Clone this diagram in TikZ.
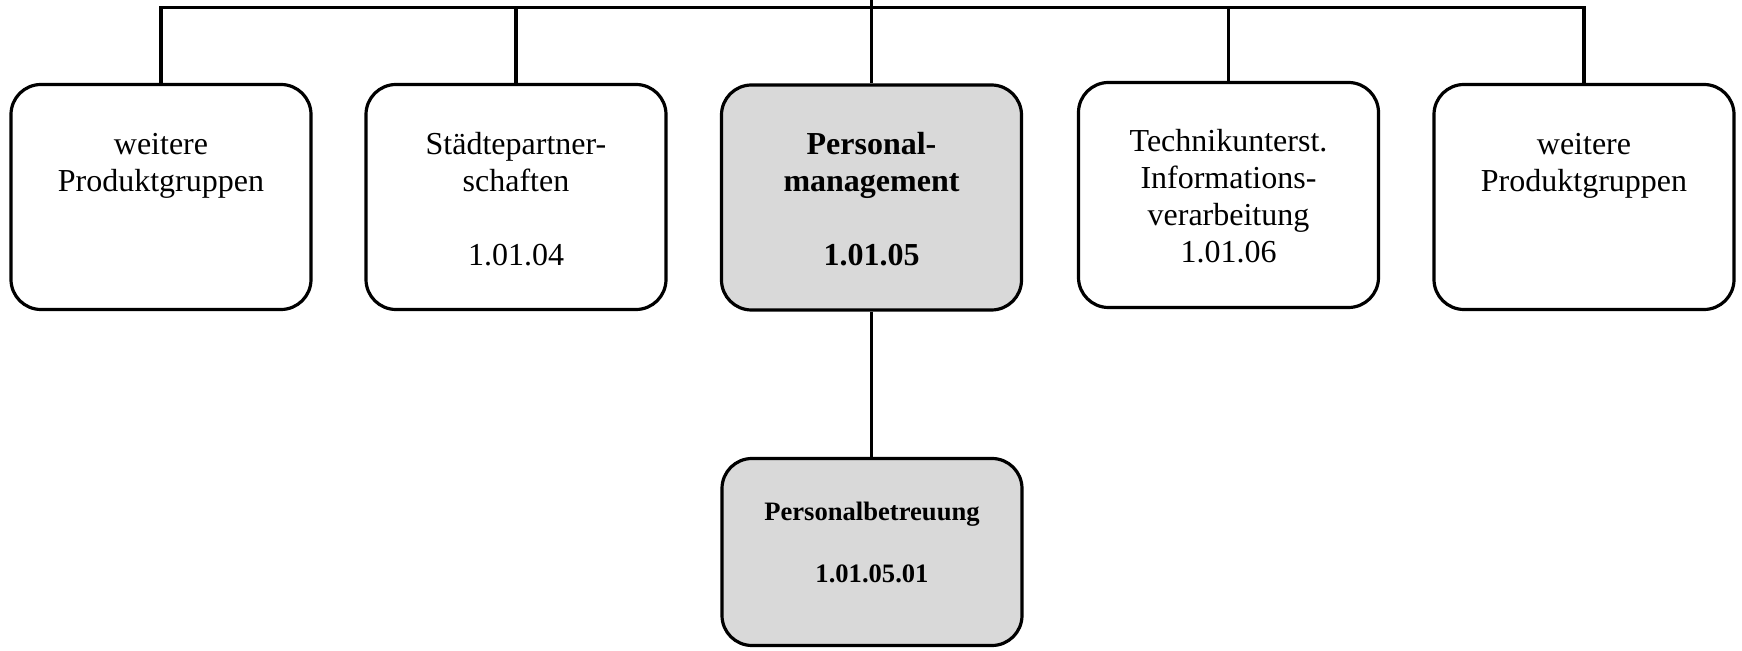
\documentclass[tikz,border=0pt]{standalone}
\usepackage{fontspec}
\setmainfont{Liberation Serif}
\definecolor{boxgray}{RGB}{217,217,217}
\begin{document}
\begin{tikzpicture}[x=0.5pt,y=-0.5pt,
  orgbox/.style={draw=black, line width=1.6pt, rounded corners=15pt,
    minimum width=150pt, minimum height=112.5pt, inner sep=0pt, fill=white},
  graybox/.style={orgbox, fill=boxgray},
  conn/.style={draw=black, line width=1.6pt, line join=miter},
  boxtext/.style={anchor=base, inner sep=0pt, font=\fontsize{16pt}{18.5pt}\selectfont},
  smalltext/.style={anchor=base, inner sep=0pt, font=\fontsize{13.3pt}{15pt}\selectfont\bfseries}]
\useasboundingbox (0,0) rectangle (1742,651);
\coordinate (hl) at (0,7.5);
\coordinate (top) at (871.5,0);

\node[orgbox] (b1) at (161,197) {};
\node[orgbox] (b2) at (516,197) {};
\node[graybox] (b3) at (871.5,197.5) {};
\node[orgbox] (b4) at (1228.5,195) {};
\node[orgbox] (b5) at (1584,197) {};
\node[graybox, minimum height=93.5pt] (b6) at (872,552) {};

\node[boxtext] (t1) at (161,155) {\begin{tabular}[t]{@{}c@{}}weitere\\Produktgruppen\end{tabular}};
\node[boxtext] (t2) at (516,155) {\begin{tabular}[t]{@{}c@{}}Städtepartner-\\schaften\\[18.5pt]1.01.04\end{tabular}};
\node[boxtext, font=\fontsize{16pt}{18.5pt}\selectfont\bfseries] (t3) at (871.5,155) {\begin{tabular}[t]{@{}c@{}}Personal-\\management\\[18.5pt]1.01.05\end{tabular}};
\node[boxtext] (t4) at (1228.5,152) {\begin{tabular}[t]{@{}c@{}}Technikunterst.\\Informations-\\verarbeitung\\1.01.06\end{tabular}};
\node[boxtext] (t5) at (1584,155) {\begin{tabular}[t]{@{}c@{}}weitere\\Produktgruppen\end{tabular}};
\node[smalltext] (t6) at (872,521) {\begin{tabular}[t]{@{}c@{}}Personalbetreuung\\[16pt]1.01.05.01\end{tabular}};

\draw[conn] (b1.north) -- (b1.north |- hl) -- (b5.north |- hl) -- (b5.north);
\draw[conn] (b2.north) -- (b2.north |- hl);
\draw[conn] (b4.north) -- (b4.north |- hl);
\draw[conn] (top) -- (b3.north);
\draw[conn] (b3.south) -- (b3.south |- b6.north);
\end{tikzpicture}
\end{document}
